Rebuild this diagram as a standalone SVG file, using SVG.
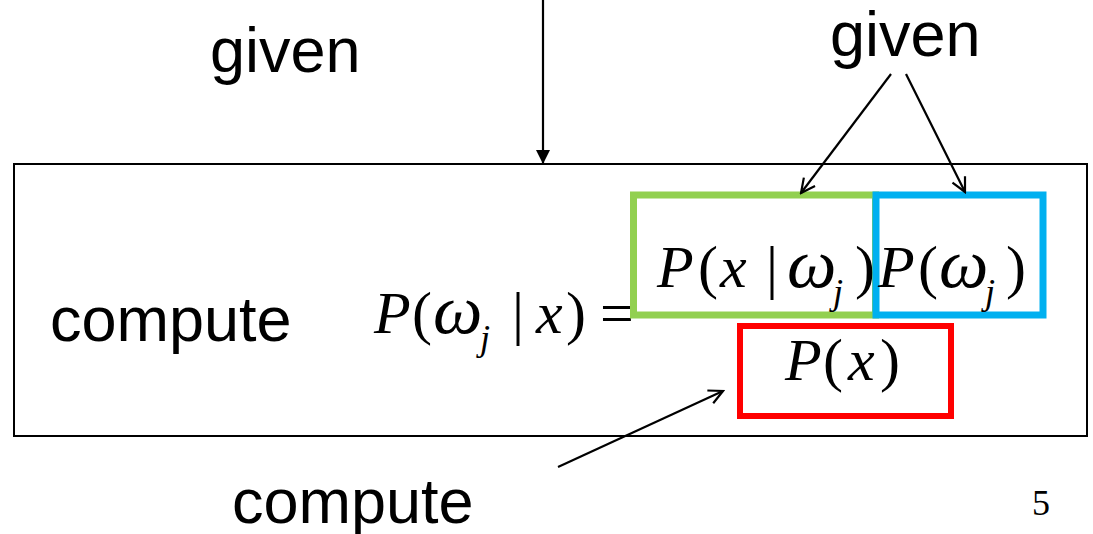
<svg xmlns="http://www.w3.org/2000/svg" width="1093" height="534" viewBox="0 0 1093 534">
<style>
.lbl{font-family:"Liberation Sans",Arial,sans-serif;font-size:63px;fill:#000}
.m{font-family:"Liberation Serif","Times New Roman",serif;font-size:60px;fill:#000}
.m tspan{fill:#000}
.i{font-style:italic}
.ln{stroke:#000;stroke-width:2.2;fill:none}
</style>
<defs>
<marker id="tri" markerWidth="14" markerHeight="14" refX="13" refY="7" orient="auto" markerUnits="userSpaceOnUse" viewBox="0 0 14 14">
<path d="M0,0 L14,7 L0,14 Z" fill="#000"/>
</marker>
<marker id="open" markerWidth="18" markerHeight="18" refX="16" refY="9" orient="auto" markerUnits="userSpaceOnUse" viewBox="0 0 18 18">
<path d="M2,2 L16,9 L2,16" fill="none" stroke="#000" stroke-width="2.2"/>
</marker>
</defs>
<rect width="1093" height="534" fill="#fff"/>
<g id="main-box">
<rect x="14" y="164" width="1073" height="272" fill="none" stroke="#000" stroke-width="2"/>
</g>
<g id="label-given-left"><text class="lbl" x="210" y="72">given</text></g>
<g id="label-given-right"><text class="lbl" x="830" y="56">given</text></g>
<g id="label-compute-left"><text class="lbl" x="50" y="341">compute</text></g>
<g id="label-compute-bottom"><text class="lbl" x="232" y="523">compute</text></g>
<g id="formula">
<text class="m" y="333"><tspan class="i" x="374">P</tspan><tspan x="412">(</tspan><tspan class="i" font-size="70" x="433">ω</tspan><tspan class="i" font-size="36" x="480" y="350">j</tspan><tspan x="512" y="333">|</tspan><tspan class="i" x="536">x</tspan><tspan x="566">)</tspan><tspan x="600">=</tspan></text>
</g>
<g id="likelihood">
<rect x="633.5" y="195" width="242" height="120" fill="none" stroke="#92d050" stroke-width="7"/>
<text class="m" y="287"><tspan class="i" x="657">P</tspan><tspan x="698">(</tspan><tspan class="i" x="720">x</tspan><tspan x="766">|</tspan><tspan class="i" font-size="70" x="787">ω</tspan><tspan class="i" font-size="36" x="833" y="304">j</tspan><tspan x="855" y="287">)</tspan></text>
</g>
<g id="prior">
<rect x="876" y="195" width="167" height="120" fill="none" stroke="#00b0f0" stroke-width="7"/>
<text class="m" y="287"><tspan class="i" x="878">P</tspan><tspan x="918">(</tspan><tspan class="i" font-size="70" x="939">ω</tspan><tspan class="i" font-size="36" x="985" y="304">j</tspan><tspan x="1006" y="287">)</tspan></text>
</g>
<g id="evidence">
<rect x="740" y="326" width="211" height="90" fill="none" stroke="#ff0000" stroke-width="6"/>
<text class="m" y="380"><tspan class="i" x="785">P</tspan><tspan x="823">(</tspan><tspan class="i" x="848">x</tspan><tspan x="880">)</tspan></text>
</g>
<g id="page-number"><text font-family="Liberation Serif,serif" font-size="36" fill="#000" x="1032" y="515">5</text></g>
<g id="connectors">
<line class="ln" x1="543" y1="0" x2="543" y2="163" marker-end="url(#tri)"/>
<line class="ln" x1="891" y1="74" x2="801" y2="193" marker-end="url(#open)"/>
<line class="ln" x1="906" y1="74" x2="965" y2="192" marker-end="url(#open)"/>
<line class="ln" x1="558" y1="467" x2="723" y2="391" marker-end="url(#open)"/>
</g>
</svg>
